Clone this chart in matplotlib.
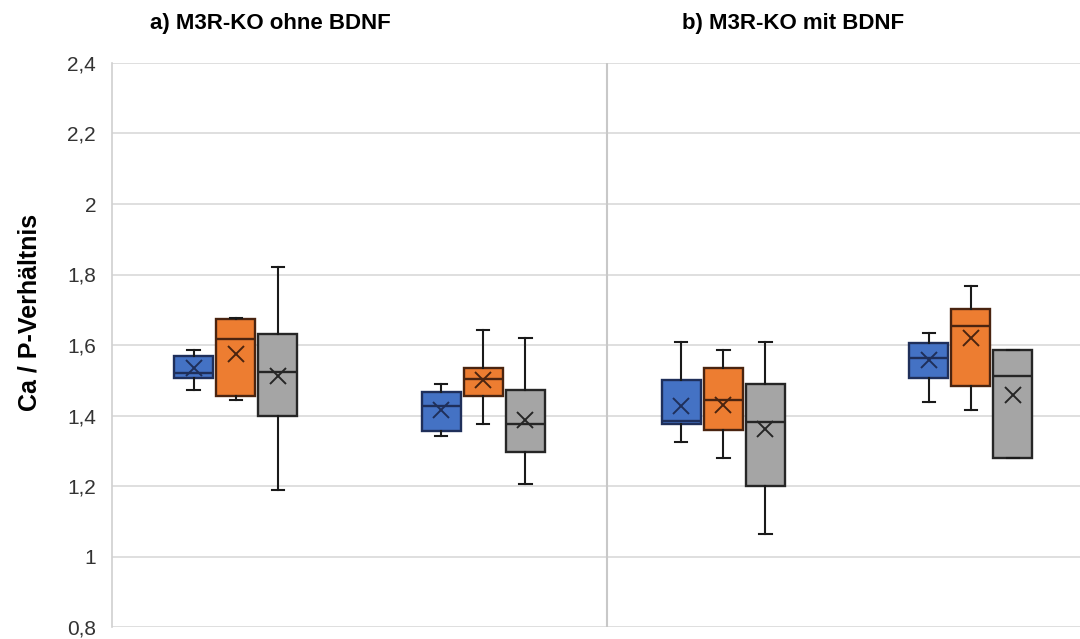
import matplotlib
matplotlib.use("Agg")
import matplotlib.pyplot as plt
from matplotlib.ticker import FuncFormatter

# ---- data ----
series = ["blue", "orange", "gray"]
colors = ["#4472C4", "#ED7D31", "#A5A5A5"]
edge_colors = ["#1F2F5A", "#4A2410", "#262626"]
group_centers = [0.5, 1.5, 2.47, 3.47]

# per group: lists for [blue, orange, gray]
q1 = [[1.506, 1.455, 1.399], [1.356, 1.455, 1.296], [1.376, 1.359, 1.200], [1.506, 1.484, 1.279]]
med = [[1.521, 1.617, 1.523], [1.427, 1.504, 1.376], [1.383, 1.444, 1.382], [1.563, 1.654, 1.512]]
q3 = [[1.569, 1.674, 1.631], [1.467, 1.535, 1.472], [1.501, 1.535, 1.489], [1.606, 1.702, 1.586]]
whislo = [[1.472, 1.444, 1.189], [1.342, 1.376, 1.206], [1.325, 1.279, 1.064], [1.438, 1.416, 1.279]]
whishi = [[1.586, 1.677, 1.821], [1.489, 1.643, 1.620], [1.609, 1.586, 1.609], [1.634, 1.767, 1.586]]
mean = [[1.535, 1.574, 1.512], [1.416, 1.501, 1.387], [1.427, 1.430, 1.362], [1.557, 1.620, 1.458]]

titles = ["a) M3R-KO ohne BDNF", "b) M3R-KO mit BDNF"]
ylabel = "Ca / P-Verhältnis"
yticks = [0.8, 1.0, 1.2, 1.4, 1.6, 1.8, 2.0, 2.2, 2.4]

# ---- figure ----
W, H = 1080, 639
fig = plt.figure(figsize=(W / 100, H / 100), dpi=100)
ax = fig.add_axes([112 / W, (H - 627) / H, 1 - 112 / W, (627 - 63) / H])

offsets = [-0.17, 0.0, 0.17]
for s in range(3):
    stats = []
    pos = []
    for g in range(4):
        stats.append(dict(q1=q1[g][s], med=med[g][s], q3=q3[g][s],
                          whislo=whislo[g][s], whishi=whishi[g][s],
                          mean=mean[g][s], fliers=[]))
        pos.append(group_centers[g] + offsets[s])
    ec = edge_colors[s]
    ax.bxp(stats, positions=pos, widths=0.158, patch_artist=True,
           showmeans=True, showfliers=False, manage_ticks=False,
           capwidths=0.05,
           boxprops=dict(facecolor=colors[s], edgecolor=ec, linewidth=1.7),
           medianprops=dict(color=ec, linewidth=1.7),
           whiskerprops=dict(color="#1a1a1a", linewidth=1.5),
           capprops=dict(color="#1a1a1a", linewidth=1.5),
           meanprops=dict(marker="x", markersize=12, markeredgecolor=ec,
                          markeredgewidth=1.4),
           zorder=3)

ax.set_xlim(0, (W - 112) / 247.5)
ax.set_ylim(0.8, 2.4)
ax.set_yticks(yticks)
ax.yaxis.set_major_formatter(FuncFormatter(lambda v, p: ("%g" % round(v, 1)).replace(".", ",")))
ax.set_xticks([])
ax.grid(axis="y", color="#D9D9D9", linewidth=1.2, zorder=0)
ax.set_axisbelow(True)
ax.axvline(2.0, color="#C8C8C8", linewidth=1.5, zorder=1)
for sp in ["top", "right", "bottom"]:
    ax.spines[sp].set_visible(False)
ax.spines["left"].set_color("#D0D0D0")
ax.spines["left"].set_linewidth(1.2)
ax.tick_params(axis="y", length=0, pad=11.5, labelsize=15, labelcolor="#333333")
for lab in ax.get_yticklabels():
    lab.set_fontfamily("Liberation Sans")

fig.text(270 / W, 1 - 23 / H, titles[0], ha="center", va="center",
         fontsize=16, fontweight="bold", family="Liberation Sans")
fig.text(793 / W, 1 - 23 / H, titles[1], ha="center", va="center",
         fontsize=16, fontweight="bold", family="Liberation Sans")
fig.text(30 / W, 1 - 312 / H, ylabel, rotation=90, ha="center", va="center",
         fontsize=18, fontweight="bold", family="Liberation Sans")

fig.savefig("out.png", dpi=100, facecolor="white")
